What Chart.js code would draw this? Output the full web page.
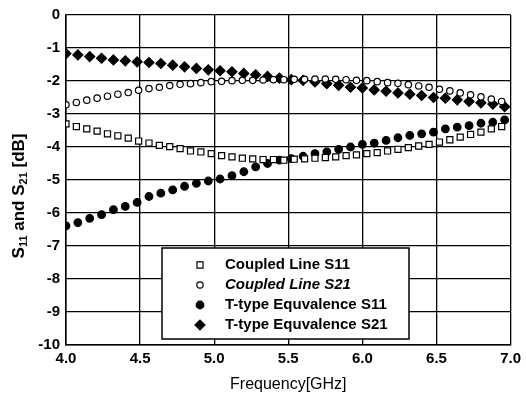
<!DOCTYPE html>
<html>
<head>
<meta charset="utf-8">
<script src="https://cdn.jsdelivr.net/npm/chart.js@4/dist/chart.umd.min.js"></script>
<style>
  body { margin: 0; background: #fff; }
</style>
</head>
<body>
<canvas id="sChart" width="526" height="398"></canvas>
<script>
// frequency points (GHz) of the two sample grids
const freqFine = [4.00, 4.07, 4.14, 4.21, 4.28, 4.35, 4.42, 4.49, 4.56, 4.63, 4.70, 4.77, 4.84, 4.91, 4.98,
    5.05, 5.12, 5.19, 5.26, 5.33, 5.40, 5.47, 5.54, 5.61, 5.68, 5.75, 5.82, 5.89, 5.96, 6.03,
    6.10, 6.17, 6.24, 6.31, 6.38, 6.45, 6.52, 6.59, 6.66, 6.73, 6.80, 6.87, 6.94];
const freqCoarse = [4.00, 4.08, 4.16, 4.24, 4.32, 4.40, 4.48, 4.56, 4.64, 4.72, 4.80, 4.88, 4.96,
    5.04, 5.12, 5.20, 5.28, 5.36, 5.44, 5.52, 5.60, 5.68, 5.76, 5.84, 5.92, 6.00,
    6.08, 6.16, 6.24, 6.32, 6.40, 6.48, 6.56, 6.64, 6.72, 6.80, 6.88, 6.96];

// Coupled Line S11 (dB), on freqFine
const coupledS11 = [-3.30, -3.38, -3.45, -3.52, -3.60, -3.66, -3.73, -3.82, -3.88, -3.95, -3.99, -4.05, -4.12, -4.15, -4.20,
    -4.26, -4.30, -4.34, -4.36, -4.38, -4.38, -4.40, -4.37, -4.36, -4.34, -4.32, -4.30, -4.26, -4.24, -4.20,
    -4.17, -4.12, -4.07, -4.02, -3.97, -3.92, -3.85, -3.78, -3.70, -3.62, -3.55, -3.45, -3.38];
// Coupled Line S21 (dB), on freqFine
const coupledS21 = [-2.72, -2.65, -2.58, -2.52, -2.46, -2.40, -2.35, -2.28, -2.23, -2.19, -2.14, -2.10, -2.08, -2.05, -2.02,
    -2.01, -1.99, -1.98, -1.98, -1.97, -1.96, -1.96, -1.95, -1.95, -1.94, -1.94, -1.95, -1.96, -1.98, -1.99,
    -2.02, -2.05, -2.07, -2.11, -2.15, -2.19, -2.25, -2.30, -2.36, -2.42, -2.48, -2.55, -2.62];
// T-type Equvalence S11 (dB), on freqCoarse
const ttypeS11 = [-6.39, -6.29, -6.16, -6.05, -5.90, -5.80, -5.68, -5.50, -5.40, -5.30, -5.19, -5.10, -5.03,
    -4.97, -4.87, -4.75, -4.60, -4.50, -4.40, -4.35, -4.28, -4.20, -4.15, -4.07, -4.00, -3.92,
    -3.88, -3.80, -3.72, -3.65, -3.60, -3.55, -3.45, -3.40, -3.35, -3.28, -3.25, -3.18];
// T-type Equvalence S21 (dB), on freqCoarse
const ttypeS21 = [-1.17, -1.21, -1.26, -1.31, -1.36, -1.39, -1.42, -1.44, -1.47, -1.52, -1.57, -1.62, -1.66,
    -1.69, -1.72, -1.77, -1.81, -1.86, -1.91, -1.96, -1.98, -2.03, -2.08, -2.13, -2.19, -2.21,
    -2.27, -2.31, -2.36, -2.40, -2.44, -2.50, -2.52, -2.57, -2.62, -2.66, -2.70, -2.78];

const xTicks = [4.0, 4.5, 5.0, 5.5, 6.0, 6.5, 7.0];
const yTicks = [0, -1, -2, -3, -4, -5, -6, -7, -8, -9, -10];

const FONT = "'Liberation Sans', Arial, sans-serif";

function toPoints(xs, ys) {
    return ys.map((y, i) => ({ x: xs[i], y: y }));
}

const series = [
    { label: "Coupled Line S11", data: toPoints(freqFine, coupledS11), pointStyle: "rect", pointRadius: 4.3, fill: "#fff", italic: false },
    { label: "Coupled Line S21", data: toPoints(freqFine, coupledS21), pointStyle: "circle", pointRadius: 3.2, fill: "#fff", italic: true },
    { label: "T-type Equvalence S11", data: toPoints(freqCoarse, ttypeS11), pointStyle: "circle", pointRadius: 3.8, fill: "#000", italic: false },
    { label: "T-type Equvalence S21", data: toPoints(freqCoarse, ttypeS21), pointStyle: "rectRot", pointRadius: 5, fill: "#000", italic: false }
];

// y-axis title with subscripts
const yTitlePlugin = {
    id: "yTitle",
    afterDraw(chart) {
        const ctx = chart.ctx;
        const parts = [
            { t: "S", sub: false }, { t: "11", sub: true }, { t: " and S", sub: false },
            { t: "21", sub: true }, { t: " [dB]", sub: false }
        ];
        const big = "bold 17px " + FONT;
        const small = "bold 11px " + FONT;
        ctx.save();
        let total = 0;
        parts.forEach(p => {
            ctx.font = p.sub ? small : big;
            p.w = ctx.measureText(p.t).width;
            total += p.w;
        });
        ctx.translate(19, 196);
        ctx.rotate(-Math.PI / 2);
        ctx.fillStyle = "#000";
        ctx.textBaseline = "middle";
        let x = -total / 2;
        parts.forEach(p => {
            ctx.font = p.sub ? small : big;
            ctx.fillText(p.t, x, p.sub ? 5 : 0);
            x += p.w;
        });
        ctx.restore();
    }
};

// legend box drawn inside the plot
const legendBoxPlugin = {
    id: "legendBox",
    afterDraw(chart) {
        const ctx = chart.ctx;
        const bx = 162, by = 248, bw = 247, bh = 91;
        ctx.save();
        ctx.fillStyle = "#fff";
        ctx.fillRect(bx, by, bw, bh);
        ctx.strokeStyle = "#000";
        ctx.lineWidth = 1.5;
        ctx.strokeRect(bx, by, bw, bh);
        series.forEach((s, i) => {
            const cy = by + 17 + i * 20;
            ctx.fillStyle = s.fill;
            ctx.strokeStyle = "#000";
            ctx.lineWidth = 1.2;
            Chart.helpers.drawPoint(ctx, { pointStyle: s.pointStyle, radius: s.pointRadius, borderWidth: 1.2, rotation: 0 }, 200, cy);
            ctx.fillStyle = "#000";
            ctx.font = (s.italic ? "italic " : "") + "bold 15px " + FONT;
            ctx.textBaseline = "middle";
            ctx.fillText(s.label, 225, cy);
        });
        ctx.restore();
    }
};

new Chart(document.getElementById("sChart"), {
    type: "scatter",
    data: {
        datasets: series.map(s => ({
            label: s.label,
            data: s.data,
            showLine: false,
            pointStyle: s.pointStyle,
            pointRadius: s.pointRadius,
            pointBackgroundColor: s.fill,
            pointBorderColor: "#000",
            pointBorderWidth: 1.2
        }))
    },
    options: {
        responsive: false,
        animation: false,
        layout: { padding: { left: 0, right: 14, top: 14, bottom: 0 } },
        plugins: {
            legend: { display: false },
            tooltip: { enabled: false }
        },
        scales: {
            x: {
                type: "linear",
                min: 4,
                max: 7,
                afterBuildTicks: axis => { axis.ticks = xTicks.map(v => ({ value: v })); },
                afterFit: axis => { axis.height = 53; },
                ticks: {
                    color: "#000",
                    padding: 5,
                    font: { family: FONT, size: 15, weight: "bold" },
                    callback: v => Number(v).toFixed(1)
                },
                grid: { color: "#000", lineWidth: 1.3, drawTicks: false },
                border: { color: "#000", width: 1.5 },
                title: {
                    display: true,
                    text: "Frequency[GHz]",
                    color: "#000",
                    padding: { top: 6 },
                    font: { family: FONT, size: 16 }
                }
            },
            y: {
                type: "linear",
                min: -10,
                max: 0,
                afterBuildTicks: axis => { axis.ticks = yTicks.map(v => ({ value: v })); },
                afterFit: axis => { axis.width = 66; },
                ticks: {
                    color: "#000",
                    padding: 6,
                    font: { family: FONT, size: 15, weight: "bold" },
                    callback: v => String(v)
                },
                grid: { color: "#000", lineWidth: 1.3, drawTicks: false },
                border: { color: "#000", width: 1.5 }
            }
        }
    },
    plugins: [yTitlePlugin, legendBoxPlugin]
});
</script>
</body>
</html>
